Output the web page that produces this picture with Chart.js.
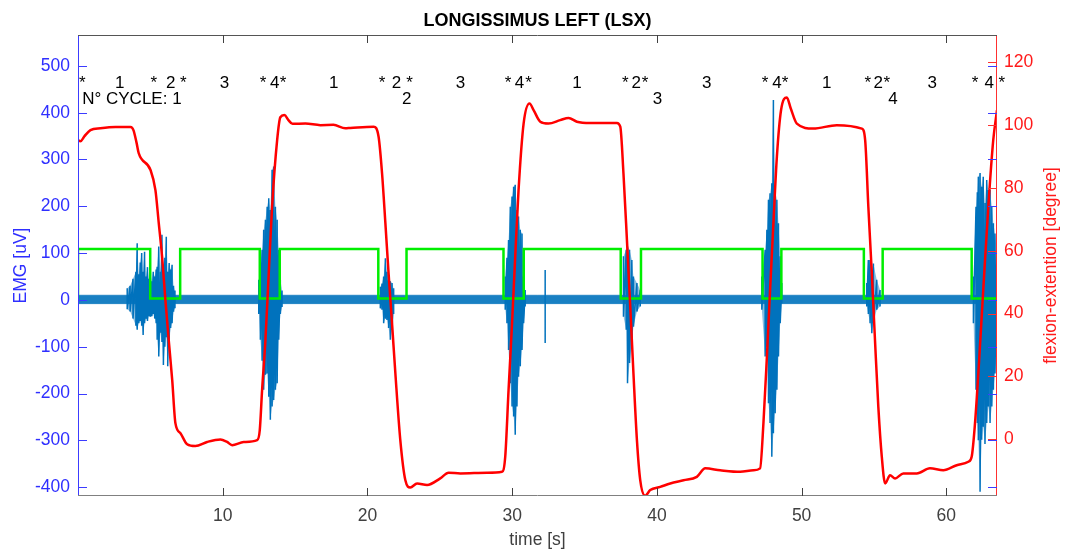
<!DOCTYPE html>
<html>
<head>
<meta charset="utf-8">
<script src="https://cdn.jsdelivr.net/npm/chart.js@4/dist/chart.umd.min.js"></script>
<style>
  body { margin: 0; background: #fff; }
  canvas { display: block; }
</style>
</head>
<body>
<canvas id="myChart" width="1075" height="551"></canvas>
<script>
// tick labels
var timeTicks = [10, 20, 30, 40, 50, 60];
var emgTicks = [-400, -300, -200, -100, 0, 100, 200, 300, 400, 500];
var angleTicks = [0, 20, 40, 60, 80, 100, 120];

// flexion-extention [degree] (right axis)
var angleTime = [0, 0.17, 0.45, 0.86, 1.55, 2.59, 3.63, 3.83, 4.04, 4.20, 5.01, 5.35, 5.58, 5.81, 6.04, 6.27, 6.51, 6.73, 7.08, 7.54,
  8.11, 8.92, 9.84, 10.30, 10.65, 11.45, 12.38, 12.56, 12.72, 12.95, 13.18, 13.41, 13.76, 13.98, 14.26, 14.54, 14.82, 15.71, 16.75, 17.65,
  18.47, 18.82, 20.43, 20.77, 21.01, 21.24, 21.46, 21.70, 21.93, 22.27, 22.62, 22.96, 23.43, 24.12, 25.03, 25.61, 26.42, 28.26, 29.30, 29.52,
  29.75, 29.99, 30.21, 30.44, 30.79, 31.20, 31.48, 31.94, 32.51, 33.32, 33.90, 34.47, 35.39, 37.24, 37.47, 37.69, 37.93, 38.16, 38.38, 38.62,
  38.85, 39.19, 39.54, 40.23, 40.92, 41.84, 42.76, 43.34, 44.37, 45.75, 46.67, 47.13, 47.36, 47.60, 47.82, 48.05, 48.29, 48.58, 48.98, 49.25,
  49.67, 50.81, 52.43, 54.16, 54.39, 54.61, 54.85, 55.07, 55.30, 55.54, 55.77, 56.11, 56.46, 57.03, 57.96, 58.87, 59.79, 60.72, 61.52, 61.75,
  61.98, 62.21, 62.55, 62.90, 63.24, 63.5];
var angleValue = [95.2, 94.9, 96.5, 98.4, 99.0, 99.4, 99.4, 98.4, 94.5, 91.0, 85.7, 79.3, 68.8, 58.1, 44.3, 31.5, 18.8, 5.1, 1.9, -1.6,
  -2.2, -0.9, -0.1, -0.9, -1.9, -0.9, -0.3, 2.9, 15.6, 31.5, 52.9, 74.0, 95.2, 102.5, 103.2, 101.6, 100.4, 100.5, 100.0, 100.1,
  99.0, 99.1, 99.5, 96.3, 84.6, 68.7, 52.8, 36.8, 20.9, -0.3, -13.1, -15.4, -14.1, -14.6, -12.5, -10.7, -10.9, -10.7, -10.4, -5.6,
  15.6, 36.8, 58.1, 79.3, 100.5, 106.9, 104.8, 101.1, 100.5, 101.6, 102.3, 101.1, 100.7, 100.7, 99.5, 84.6, 63.4, 42.1, 20.9, -0.3,
  -13.1, -18.0, -16.2, -15.2, -14.1, -13.1, -12.0, -9.3, -9.9, -10.4, -9.9, -9.3, 5.0, 26.2, 47.5, 68.7, 89.9, 104.8, 108.8, 105.3,
  100.5, 98.9, 100.0, 98.9, 95.2, 74.0, 52.8, 31.5, 10.3, -5.6, -14.1, -11.5, -12.5, -10.9, -10.9, -9.3, -9.9, -8.3, -7.2, -5.6,
  5.0, 20.9, 47.5, 74.0, 95.2, 104.8];

// phase trigger (left axis)
var triggerTime = [0, 0, 4.99, 7.06, 12.56, 13.94, 20.75, 22.7, 29.4, 30.8, 37.5, 38.9, 47.3, 48.6, 54.3, 55.6, 61.75, 63.5];
var triggerLevel = [3, 109, 3, 109, 3, 109, 3, 109, 3, 109, 3, 109, 3, 109, 3, 109, 3, 3];

// EMG [uV] baseline noise band
var emgBaseTime = [0, 63.5];
var emgBaseHigh = [10, 10];
var emgBaseLow = [-8, -8];

// EMG [uV] bursts: envelope max / min
var emgTime = [3.40, 3.60, 3.80, 4.00, 4.09, 4.20, 4.30, 4.40, 4.50, 4.60, 4.70, 4.80, 4.90, 5.00, 5.10, 5.20, 5.30, 5.40, 5.47, 5.58,
  5.70, 5.80, 5.90, 6.00, 6.10, 6.20, 6.30, 6.40, 6.50, 6.60, 6.70,
  12.49, 12.60, 12.72, 12.83, 12.95, 13.07, 13.18, 13.29, 13.41, 13.52, 13.64, 13.76, 13.87, 13.98, 14.10,
  20.89, 21.01, 21.12, 21.24, 21.35, 21.46, 21.58, 21.70, 21.81,
  29.52, 29.64, 29.75, 29.87, 29.99, 30.10, 30.21, 30.33, 30.44, 30.56, 30.68, 30.79, 30.90,
  32.28,
  37.69, 37.88, 37.97, 38.11, 38.27, 38.38, 38.62, 38.85,
  47.25, 47.48, 47.60, 47.71, 47.82, 47.94, 48.05, 48.17, 48.29, 48.40, 48.52, 48.63,
  54.50, 54.61, 54.73, 54.85, 54.96, 55.19, 55.42,
  61.87, 62.05, 62.14, 62.21, 62.33, 62.44, 62.55, 62.67, 62.79, 62.90, 63.02, 63.14, 63.25, 63.36, 63.48];
var emgMax = [25, 30, 45, 60, 121, 55, 80, 100, 60, 103, 50, 70, 45, 57, 40, 60, 50, 65, 71, 114,
  60, 139, 75, 90, 135, 60, 79, 65, 75, 30, 20,
  43, 80, 107, 150, 171, 199, 217, 192, 278, 285, 199, 171, 107, 43, 20,
  28, 35, 50, 89, 60, 43, 40, 36, 25,
  50, 90, 128, 199, 221, 242, 246, 192, 178, 150, 142, 50, 21,
  64,
  93, 107, 114, 107, 85, 50, 36, 21,
  50, 107, 150, 214, 228, 249, 427, 235, 214, 164, 93, 36,
  36, 85, 85, 64, 78, 43, 21,
  50, 199, 230, 263, 271, 242, 263, 207, 256, 235, 235, 199, 164, 142, 107];
var emgMin = [-20, -25, -40, -55, -64, -50, -45, -55, -75, -50, -40, -45, -35, -36, -35, -30, -40, -50, -85, -121,
  -70, -90, -139, -100, -80, -142, -85, -60, -50, -25, -18,
  -30, -85, -130, -192, -160, -157, -207, -256, -228, -214, -192, -178, -85, -30, -15,
  -18, -21, -50, -40, -43, -60, -85, -64, -30,
  -21, -50, -107, -178, -228, -249, -288, -228, -164, -142, -107, -50, -14,
  -92,
  -36, -64, -178, -135, -93, -57, -25, -14,
  -21, -121, -100, -221, -263, -335, -285, -242, -192, -121, -50, -7,
  -14, -30, -50, -71, -50, -21, -14,
  -50, -192, -263, -300, -410, -299, -271, -308, -263, -228, -263, -228, -192, -157, -121];

// text annotations
var phaseText = ['*', '1', '*', '2', '*', '3', '*', '4', '*', '1', '*', '2', '*', '3', '*', '4', '*',
  '1', '*', '2', '*', '3', '*', '4', '*', '1', '*', '2', '*', '3', '*', '4', '*'];
var phaseTime = [0.29, 2.89, 5.23, 6.41, 7.27, 10.12, 12.79, 13.59, 14.17, 17.67, 21.01, 22.0, 22.91, 26.42, 29.71, 30.51, 31.13,
  34.47, 37.81, 38.57, 39.19, 43.45, 47.48, 48.29, 48.86, 51.74, 54.57, 55.30, 55.88, 59.03, 61.98, 62.97, 63.83];
var phaseRowY = 453;
var cycleText = ['N\u00b0 CYCLE: 1', '2', '3', '4'];
var cycleTime = [0.29, 22.39, 39.72, 55.99];
var cycleRowY = 419;

var FONT = '"Liberation Sans", Arial, Helvetica, sans-serif';

// build tables for the library
var angleData = angleTime.map(function (t, i) { return { x: t, y: angleValue[i] }; });
var triggerData = triggerTime.map(function (t, i) { return { x: t, y: triggerLevel[i] }; });
var baseHighData = emgBaseTime.map(function (t, i) { return { x: t, y: emgBaseHigh[i] }; });
var baseLowData = emgBaseTime.map(function (t, i) { return { x: t, y: emgBaseLow[i] }; });
var emgData = [], emgMaxData = [], emgMinData = [];
for (var i = 0; i < emgTime.length; i++) {
  if (i > 0 && emgTime[i] - emgTime[i - 1] > 0.5) {
    emgData.push({ x: emgTime[i - 1], y: null });
    emgMaxData.push({ x: emgTime[i - 1], y: null });
    emgMinData.push({ x: emgTime[i - 1], y: null });
  }
  emgData.push({ x: emgTime[i], y: emgMax[i] });
  emgData.push({ x: emgTime[i], y: emgMin[i] });
  emgMaxData.push({ x: emgTime[i], y: emgMax[i] });
  emgMinData.push({ x: emgTime[i], y: emgMin[i] });
}

var decorations = {
  id: 'decorations',
  afterDraw: function (chart) {
    var ctx = chart.ctx, a = chart.chartArea;
    var sx = chart.scales.x, sy = chart.scales.y, s2 = chart.scales.y2;
    ctx.save();

    // axis lines
    ctx.lineWidth = 1;
    ctx.strokeStyle = '#3c3cff';
    ctx.beginPath(); ctx.moveTo(a.left + 0.5, a.top); ctx.lineTo(a.left + 0.5, a.bottom); ctx.stroke();
    ctx.strokeStyle = '#ff3030';
    ctx.beginPath(); ctx.moveTo(a.right - 0.5, a.top); ctx.lineTo(a.right - 0.5, a.bottom); ctx.stroke();
    ctx.strokeStyle = '#555555';
    ctx.beginPath(); ctx.moveTo(a.left, a.top + 0.5); ctx.lineTo(a.right, a.top + 0.5); ctx.stroke();
    ctx.strokeStyle = '#808080';
    ctx.beginPath(); ctx.moveTo(a.left, a.bottom - 0.5); ctx.lineTo(a.right, a.bottom - 0.5); ctx.stroke();

    // inward tick marks
    ctx.strokeStyle = '#404040';
    timeTicks.forEach(function (v) {
      var px = Math.round(sx.getPixelForValue(v)) + 0.5;
      ctx.beginPath(); ctx.moveTo(px, a.bottom); ctx.lineTo(px, a.bottom - 8); ctx.stroke();
      ctx.beginPath(); ctx.moveTo(px, a.top); ctx.lineTo(px, a.top + 8); ctx.stroke();
    });
    ctx.strokeStyle = '#3c3cff';
    emgTicks.forEach(function (v) {
      var py = Math.round(sy.getPixelForValue(v)) + 0.5;
      ctx.beginPath(); ctx.moveTo(a.left, py); ctx.lineTo(a.left + 9, py); ctx.stroke();
      ctx.beginPath(); ctx.moveTo(a.right, py); ctx.lineTo(a.right - 9, py); ctx.stroke();
    });
    ctx.strokeStyle = '#ff3030';
    angleTicks.forEach(function (v) {
      var py = Math.round(s2.getPixelForValue(v)) + 0.5;
      ctx.beginPath(); ctx.moveTo(a.right, py); ctx.lineTo(a.right - 9, py); ctx.stroke();
    });

    // title and axis titles
    ctx.fillStyle = '#000000';
    ctx.font = 'bold 18px ' + FONT;
    ctx.textAlign = 'center';
    ctx.textBaseline = 'middle';
    ctx.fillText('LONGISSIMUS LEFT (LSX)', (a.left + a.right) / 2, 21);

    ctx.font = '17.5px ' + FONT;
    ctx.fillStyle = '#404040';
    ctx.fillText('time [s]', (a.left + a.right) / 2, 540);

    var midY = (a.top + a.bottom) / 2;
    ctx.save();
    ctx.translate(21, midY);
    ctx.rotate(-Math.PI / 2);
    ctx.fillStyle = '#2f2fff';
    ctx.fillText('EMG [uV]', 0, 0);
    ctx.restore();

    ctx.save();
    ctx.translate(1051, midY);
    ctx.rotate(-Math.PI / 2);
    ctx.fillStyle = '#ff1a1a';
    ctx.fillText('flexion-extention [degree]', 0, 0);
    ctx.restore();

    // phase markers and cycle numbers
    ctx.fillStyle = '#000000';
    ctx.font = '17px ' + FONT;
    ctx.textBaseline = 'alphabetic';
    ctx.textAlign = 'center';
    var rowY = sy.getPixelForValue(phaseRowY);
    phaseText.forEach(function (txt, k) {
      ctx.fillText(txt, sx.getPixelForValue(phaseTime[k]), rowY);
    });
    ctx.textAlign = 'left';
    var rowY2 = sy.getPixelForValue(cycleRowY);
    cycleText.forEach(function (txt, k) {
      ctx.fillText(txt, sx.getPixelForValue(cycleTime[k]), rowY2);
    });

    ctx.restore();
  }
};

var ctx = document.getElementById('myChart').getContext('2d');
var chart = new Chart(ctx, {
  type: 'line',
  data: {
    datasets: [{
      label: 'flexion-extention',
      data: angleData,
      yAxisID: 'y2',
      borderColor: '#ff0000',
      borderWidth: 2.5,
      pointRadius: 0,
      cubicInterpolationMode: 'monotone',
      fill: false
    }, {
      label: 'phase',
      data: triggerData,
      yAxisID: 'y',
      borderColor: '#00ee00',
      borderWidth: 2.5,
      pointRadius: 0,
      stepped: true,
      fill: false
    }, {
      label: 'EMG bursts',
      data: emgData,
      yAxisID: 'y',
      borderColor: '#0072bd',
      borderWidth: 1.5,
      pointRadius: 0,
      tension: 0,
      spanGaps: false,
      fill: false
    }, {
      label: 'EMG burst max',
      data: emgMaxData,
      yAxisID: 'y',
      borderWidth: 0,
      borderColor: 'rgba(0,0,0,0)',
      backgroundColor: 'rgba(0,114,189,0.45)',
      pointRadius: 0,
      spanGaps: false,
      fill: '+1'
    }, {
      label: 'EMG burst min',
      data: emgMinData,
      yAxisID: 'y',
      borderWidth: 0,
      borderColor: 'rgba(0,0,0,0)',
      pointRadius: 0,
      spanGaps: false,
      fill: false
    }, {
      label: 'EMG high',
      data: baseHighData,
      yAxisID: 'y',
      borderColor: 'rgba(0,114,189,0.6)',
      borderWidth: 1,
      backgroundColor: 'rgba(0,114,189,0.9)',
      pointRadius: 0,
      fill: '+1'
    }, {
      label: 'EMG low',
      data: baseLowData,
      yAxisID: 'y',
      borderColor: 'rgba(0,114,189,0.6)',
      borderWidth: 1,
      pointRadius: 0,
      fill: false
    }]
  },
  options: {
    responsive: false,
    animation: false,
    devicePixelRatio: 1,
    layout: { padding: { top: 35, left: 0, right: 0, bottom: 0 } },
    plugins: {
      legend: { display: false },
      tooltip: { enabled: false },
      title: { display: false }
    },
    scales: {
      x: {
        type: 'linear',
        position: 'bottom',
        min: 0,
        max: 63.5,
        grid: { display: false, drawTicks: false },
        border: { display: false },
        ticks: { color: '#404040', font: { size: 17.5, family: FONT }, padding: 10, autoSkip: false, maxRotation: 0 },
        afterBuildTicks: function (s) { s.ticks = timeTicks.map(function (v) { return { value: v }; }); },
        afterFit: function (s) { s.height = 55; }
      },
      y: {
        type: 'linear',
        position: 'left',
        min: -419,
        max: 566,
        grid: { display: false, drawTicks: false },
        border: { display: false },
        ticks: { color: '#2f2fff', font: { size: 17.5, family: FONT }, padding: 8, autoSkip: false,
          callback: function (v) { return String(v); } },
        afterBuildTicks: function (s) { s.ticks = emgTicks.map(function (v) { return { value: v }; }); },
        afterFit: function (s) { s.width = 78; }
      },
      y2: {
        type: 'linear',
        position: 'right',
        min: -18.1,
        max: 128.7,
        grid: { display: false, drawTicks: false },
        border: { display: false },
        ticks: { color: '#ff1a1a', font: { size: 17.5, family: FONT }, padding: 7, autoSkip: false,
          callback: function (v) { return String(v); } },
        afterBuildTicks: function (s) { s.ticks = angleTicks.map(function (v) { return { value: v }; }); },
        afterFit: function (s) { s.width = 78; }
      }
    }
  },
  plugins: [decorations]
});
</script>
</body>
</html>
